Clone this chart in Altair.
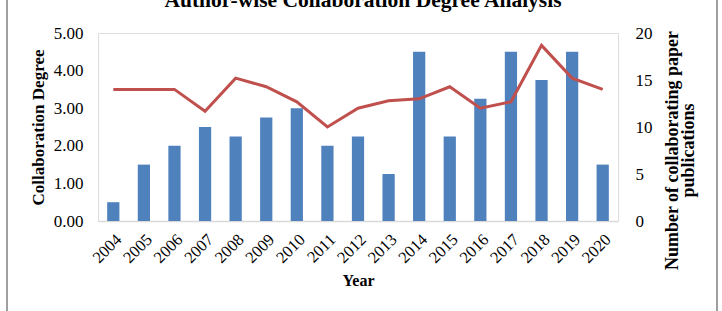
import altair as alt
import pandas as pd

years = [str(y) for y in range(2004, 2021)]
papers = [2, 6, 8, 10, 9, 11, 12, 8, 9, 5, 18, 9, 13, 18, 15, 18, 6]
degree = [3.5, 3.5, 3.5, 2.92, 3.8, 3.57, 3.17, 2.5, 3.0, 3.2, 3.25, 3.57, 3.0, 3.17, 4.67, 3.8, 3.5]
title_text = ["Author-wise Collaboration Degree Analysis"]

df = pd.DataFrame({"Year": years, "Papers": papers, "Degree": degree})
FONT = "Liberation Serif"

x = alt.X(
    "Year:N", sort=years,
    scale=alt.Scale(paddingInner=0.6, paddingOuter=0.3),
    axis=alt.Axis(
        title="Year", labelAngle=-45, labelFont=FONT, labelFontSize=16.5,
        labelColor="black", ticks=False, domainColor="#D9D9D9", domainWidth=1.5,
        labelPadding=10, titleFont=FONT, titleFontSize=16, titleFontWeight="bold",
        titleColor="black", titlePadding=6,
    ),
)

bars = alt.Chart(df).mark_bar(color="#4F81BD").encode(
    x=x,
    y=alt.Y(
        "Papers:Q", scale=alt.Scale(domain=[0, 20]),
        axis=alt.Axis(
            orient="right", values=[0, 5, 10, 15, 20], grid=False, ticks=False,
            domain=False, labelFont=FONT, labelFontSize=17, labelColor="black",
            labelPadding=17,
            title=["Number of collaborating paper", "publications"],
            titleAngle=270, titleFont=FONT, titleFontSize=18, titleFontWeight="bold",
            titleColor="black", titleLineHeight=16, titlePadding=13, titleY=117,
        ),
    ),
)

line = alt.Chart(df).mark_line(color="#C0504D", strokeWidth=3).encode(
    x=x,
    y=alt.Y(
        "Degree:Q", scale=alt.Scale(domain=[0, 5]),
        axis=alt.Axis(
            orient="left", values=[0, 1, 2, 3, 4, 5], format=".2f", grid=False,
            ticks=False, domain=False, labelFont=FONT, labelFontSize=17,
            labelColor="black", labelPadding=15,
            title="Collaboration Degree", titleFont=FONT, titleFontSize=17,
            titleFontWeight="bold", titleColor="black", titlePadding=6,
        ),
    ),
)

border_df = pd.DataFrame({"x": [-91, 619]})
border = alt.Chart(border_df).mark_rule(color="#404040", strokeWidth=1).encode(
    x=alt.X("x:Q", scale=None),
    y=alt.value(-33),
    y2=alt.value(290),
)

title_mark = alt.Chart(pd.DataFrame({"t": title_text})).mark_text(
    font=FONT, fontSize=21.5, fontWeight="bold", color="black",
    align="center", baseline="alphabetic",
).encode(text="t:N", x=alt.value(265), y=alt.value(-26))

chart = alt.layer(bars, line).resolve_scale(y="independent")
chart = alt.layer(chart, border, title_mark).properties(
    width=520, height=188,
    autosize=alt.AutoSizeParams(type="none"),
    padding={"left": 98, "top": 33, "right": 104, "bottom": 90},
).configure_view(stroke=None).configure(background="white")

chart.save("out.html", embed_options={"renderer": "svg", "actions": False})
